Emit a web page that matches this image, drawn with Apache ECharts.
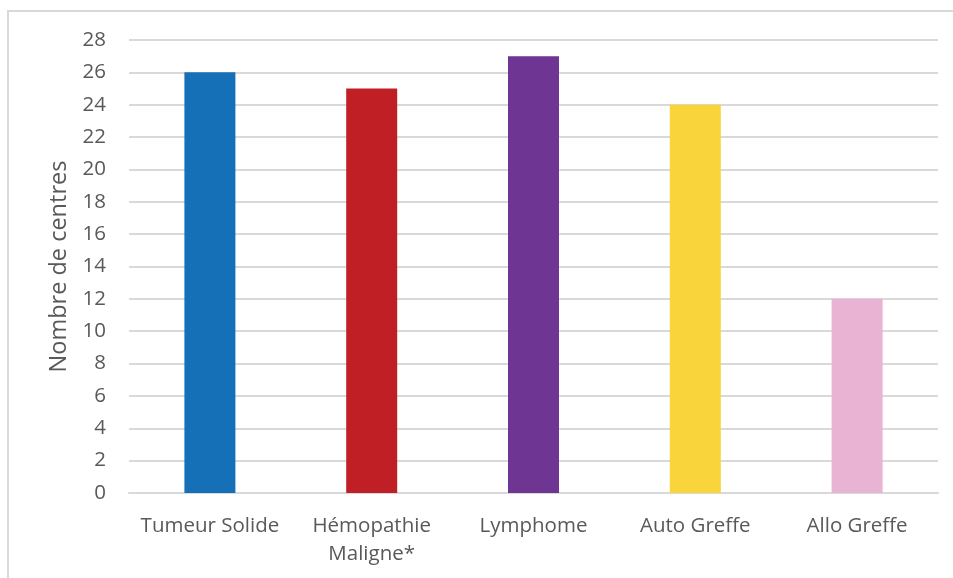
<!DOCTYPE html>
<html>
<head>
<meta charset="utf-8">
<script src="https://cdn.jsdelivr.net/npm/echarts@6/dist/echarts.min.js"></script>
<style>
  html, body { margin: 0; padding: 0; background: #fff; }
  #chart { width: 953px; height: 578px; }
</style>
</head>
<body>
<div id="chart"></div>
<script>
// Nombre de centres par type de prise en charge
const categories = ['Tumeur Solide', 'Hémopathie\nMaligne*', 'Lymphome', 'Auto Greffe', 'Allo Greffe'];
const values = [26, 25, 27, 24, 12];
const barColors = ['#1570b8', '#c01f26', '#6e3592', '#f9d43a', '#e9b3d3'];
const yTicks = { min: 0, max: 28, interval: 2 };

const fontFamily = '"Open Sans", "Noto Sans", sans-serif';
const chart = echarts.init(document.getElementById('chart'), null, { renderer: 'canvas' });

chart.setOption({
  animation: false,
  backgroundColor: '#ffffff',
  graphic: [{
    type: 'rect',
    silent: true,
    shape: { x: 8, y: 11, width: 980, height: 620 },
    style: { fill: 'none', stroke: '#d9d9d9', lineWidth: 2 }
  }],
  grid: { left: 129, right: 15, top: 40, bottom: 85, containLabel: false },
  xAxis: {
    type: 'category',
    data: categories,
    axisLine: { show: true, lineStyle: { color: '#d9d9d9', width: 2 } },
    axisTick: { show: false },
    axisLabel: {
      color: '#595959', fontSize: 20.5, fontFamily: fontFamily,
      margin: 19, lineHeight: 28, interval: 0
    }
  },
  yAxis: {
    type: 'value',
    min: yTicks.min, max: yTicks.max, interval: yTicks.interval,
    name: 'Nombre de centres',
    nameLocation: 'middle',
    nameGap: 52,
    nameTextStyle: { color: '#595959', fontSize: 23.5, fontFamily: fontFamily },
    axisLine: { show: false },
    axisTick: { show: false },
    axisLabel: { color: '#595959', fontSize: 20.5, fontFamily: fontFamily, margin: 23 },
    splitLine: { lineStyle: { color: '#d9d9d9', width: 2 } }
  },
  series: [{
    type: 'bar',
    barWidth: 51,
    data: values.map((v, i) => ({ value: v, itemStyle: { color: barColors[i] } }))
  }]
});
</script>
</body>
</html>
